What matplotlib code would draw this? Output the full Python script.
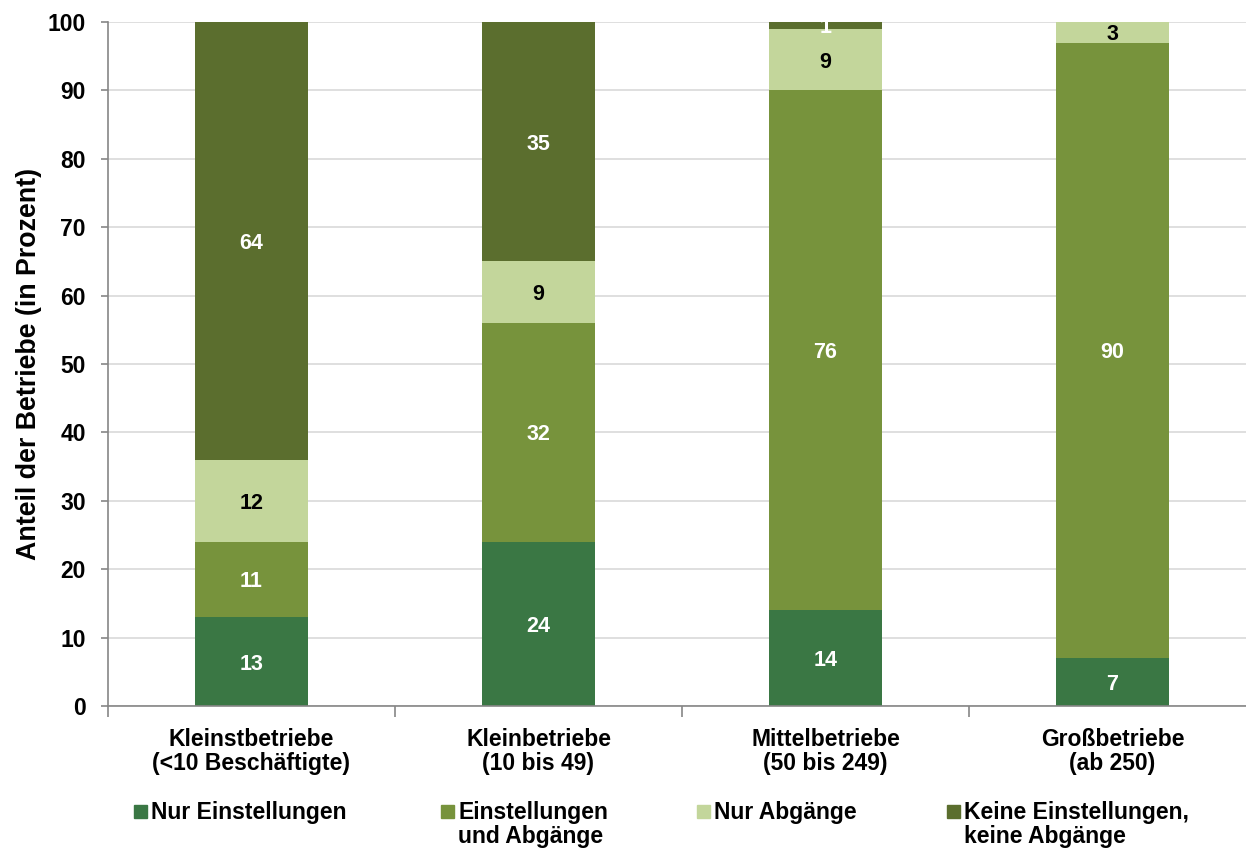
import matplotlib
matplotlib.use('Agg')
import matplotlib.pyplot as plt
from matplotlib.patches import Rectangle

plt.rcParams['font.family'] = ['Liberation Sans', 'DejaVu Sans']
plt.rcParams['font.weight'] = 'bold'

categories = ['Kleinstbetriebe\n(<10 Beschäftigte)', 'Kleinbetriebe\n(10 bis 49)',
              'Mittelbetriebe\n(50 bis 249)', 'Großbetriebe\n(ab 250)']
series = ['Nur Einstellungen', 'Einstellungen\nund Abgänge', 'Nur Abgänge',
          'Keine Einstellungen,\nkeine Abgänge']
nur_einstellungen = [13, 24, 14, 7]
einstellungen_abgaenge = [11, 32, 76, 90]
nur_abgaenge = [12, 9, 9, 3]
keine = [64, 35, 1, 0]

colors = ['#3A7744', '#77933C', '#C3D69B', '#5B6E2E']
label_colors = ['white', 'white', 'black', 'white']

fig = plt.figure(figsize=(12.46, 8.5), dpi=100)
ax = fig.add_axes([108 / 1246, 1 - 706 / 850, 1 - 108 / 1246, 684 / 850])

x = range(len(categories))
bottom = [0] * len(categories)
for vals, col, lc in zip([nur_einstellungen, einstellungen_abgaenge, nur_abgaenge, keine],
                         colors, label_colors):
    ax.bar(x, vals, bottom=bottom, width=0.397, color=col, zorder=2)
    for i, v in enumerate(vals):
        if v > 0:
            t = ax.text(i, bottom[i] + v / 2, str(v), ha='center', va='center_baseline',
                        color=lc, fontsize=15.5, fontweight='bold', zorder=3)
            t.set_clip_on(True)
    bottom = [b + v for b, v in zip(bottom, vals)]

ax.set_ylim(0, 100)
# the last category cell runs slightly past the right edge
ax.set_xlim(-0.5, -0.5 + 1138 / 287)
ax.set_yticks(range(0, 101, 10))
ax.yaxis.grid(True, color='#D9D9D9', linewidth=1.2, zorder=0)
ax.set_axisbelow(True)
ax.tick_params(axis='y', labelsize=16.5, length=5, color='#868686', width=1.2, pad=11)
for lab in ax.get_yticklabels():
    lab.set_fontweight('bold')

ax.set_xticks([0, 1, 2, 3])
ax.set_xticklabels(categories, fontsize=16.5, fontweight='bold', linespacing=1.05)
ax.tick_params(axis='x', length=0, pad=16)
ax.set_xticks([-0.5, 0.5, 1.5, 2.5], minor=True)
ax.tick_params(axis='x', which='minor', length=8, color='#868686', width=1.2)

for s in ['top', 'right']:
    ax.spines[s].set_visible(False)
for s in ['left', 'bottom']:
    ax.spines[s].set_color('#868686')
    ax.spines[s].set_linewidth(1.2)

ax.set_ylabel('Anteil der Betriebe (in Prozent)', fontsize=19.3, fontweight='bold', labelpad=4)

# legend row below the chart
leg_x = [134, 441, 697, 947]
for name, col, lx in zip(series, colors, leg_x):
    fig.add_artist(Rectangle((lx / 1246, 1 - 818 / 850), 13 / 1246, 13 / 850,
                             transform=fig.transFigure, color=col))
    fig.text((lx + 17) / 1246, 1 - 801 / 850, name, ha='left', va='top',
             fontsize=16.5, fontweight='bold', linespacing=1.05)

fig.savefig('out.png', dpi=100)
